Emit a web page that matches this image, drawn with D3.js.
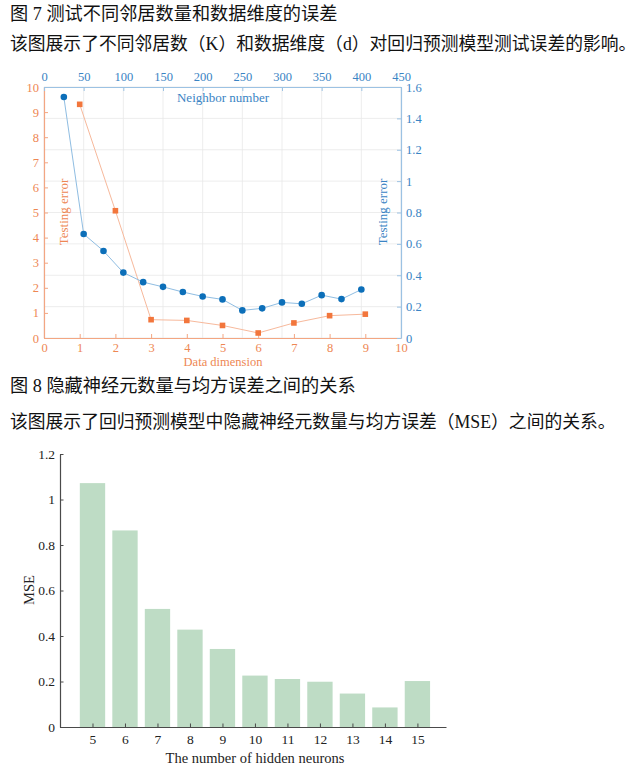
<!DOCTYPE html>
<html lang="zh">
  <head>
    <meta charset="UTF-8" />
    <title>Figure 7 and 8</title>
    <script src="https://d3js.org/d3.v7.min.js"></script>
    <style>
      body { margin: 0; background: #fff; }
      text { font-family: "Liberation Serif", "Noto Sans CJK SC", serif; }
    </style>
  </head>
  <body>
    <div id="chart"></div>
    <script>
      // ---- data ----
      const neighborNumbers = [25, 50, 75, 100, 125, 150, 175, 200, 225, 250, 275, 300, 325, 350, 375, 400];
      const neighborError = [1.536, 0.663, 0.555, 0.417, 0.356, 0.326, 0.293, 0.265, 0.246, 0.176, 0.189, 0.227, 0.218, 0.273, 0.248, 0.309];
      const dimensions = [1, 2, 3, 4, 5, 6, 7, 8, 9];
      const dimensionError = [9.31, 5.07, 0.73, 0.70, 0.50, 0.20, 0.60, 0.89, 0.95];

      const hiddenNeurons = [5, 6, 7, 8, 9, 10, 11, 12, 13, 14, 15];
      const mse = [1.072, 0.864, 0.519, 0.428, 0.343, 0.226, 0.211, 0.199, 0.147, 0.086, 0.202];

      const fig7Title = "图 7  测试不同邻居数量和数据维度的误差";
      const fig7Caption = "该图展示了不同邻居数（K）和数据维度（d）对回归预测模型测试误差的影响。";
      const fig8Title = "图 8  隐藏神经元数量与均方误差之间的关系";
      const fig8Caption = "该图展示了回归预测模型中隐藏神经元数量与均方误差（MSE）之间的关系。";

      const blue = "#0c6fb9", blueLine = "#8fbde2", blueAxis = "#9cc2e3", blueText = "#3a84c4";
      const orange = "#f2763c", orangeLine = "#f7b99c", orangeAxis = "#f3a682", orangeText = "#ee8753";

      const svg = d3.select("#chart").append("svg")
        .attr("width", 635).attr("height", 780);

      // captions
      function caption(txt, y, size) {
        svg.append("text").attr("x", 10).attr("y", y)
          .attr("font-size", size).attr("fill", "#111").text(txt);
      }
      caption(fig7Title, 20, 18.2);
      caption(fig7Caption, 50, 17.8);
      caption(fig8Title, 392, 18.2);
      caption(fig8Caption, 428, 17.8);

      // ---- figure 7: double-axis line chart ----
      const L = 44, R = 401, T = 87, B = 338;
      const xBot = d3.scaleLinear().domain([0, 10]).range([L, R]);
      const xTop = d3.scaleLinear().domain([0, 450]).range([L, R]);
      const yL = d3.scaleLinear().domain([0, 10]).range([B, T]);
      const yR = d3.scaleLinear().domain([0, 1.6]).range([B, T]);

      const g7 = svg.append("g");

      // grid from the top/right axes
      g7.append("g").selectAll("line").data(xTop.ticks(9)).join("line")
        .attr("x1", d => xTop(d)).attr("x2", d => xTop(d))
        .attr("y1", T).attr("y2", B)
        .attr("stroke", "#e8e8e8").attr("stroke-width", 0.8);
      g7.append("g").selectAll("line").data(d3.range(0, 1.61, 0.2)).join("line")
        .attr("x1", L).attr("x2", R)
        .attr("y1", d => yR(d)).attr("y2", d => yR(d))
        .attr("stroke", "#e8e8e8").attr("stroke-width", 0.8);

      function styleAxis(sel, lineColor, textColor) {
        sel.select(".domain").attr("stroke", lineColor).attr("stroke-width", 1.2);
        sel.selectAll(".tick line").attr("stroke", lineColor);
        sel.selectAll(".tick text").attr("fill", textColor)
          .attr("font-size", 12.5).attr("font-family", "Liberation Serif");
      }

      const fmt = d => String(+d.toFixed(1));

      const axBot = g7.append("g").attr("transform", `translate(0,${B})`)
        .call(d3.axisBottom(xBot).ticks(10).tickSize(-4).tickSizeOuter(0).tickPadding(5).tickFormat(fmt));
      styleAxis(axBot, orangeAxis, orangeText);

      const axLeft = g7.append("g").attr("transform", `translate(${L},0)`)
        .call(d3.axisLeft(yL).ticks(10).tickSize(-4).tickSizeOuter(0).tickPadding(5).tickFormat(fmt));
      styleAxis(axLeft, orangeAxis, orangeText);

      const axTop = g7.append("g").attr("transform", `translate(0,${T})`)
        .call(d3.axisTop(xTop).ticks(9).tickSize(-4).tickSizeOuter(0).tickPadding(6));
      styleAxis(axTop, blueAxis, blueText);

      const axRight = g7.append("g").attr("transform", `translate(${R},0)`)
        .call(d3.axisRight(yR).tickValues(d3.range(0, 1.61, 0.2)).tickSize(-4).tickSizeOuter(0).tickPadding(5).tickFormat(fmt));
      styleAxis(axRight, blueAxis, blueText);

      // dimension series (orange squares, left/bottom axes)
      const dimPts = dimensions.map((d, i) => [d, dimensionError[i]]);
      g7.append("path").datum(dimPts)
        .attr("d", d3.line().x(d => xBot(d[0])).y(d => yL(d[1])))
        .attr("fill", "none").attr("stroke", orangeLine).attr("stroke-width", 1);
      g7.append("g").selectAll("rect").data(dimPts).join("rect")
        .attr("x", d => xBot(d[0]) - 2.8).attr("y", d => yL(d[1]) - 2.8)
        .attr("width", 5.6).attr("height", 5.6).attr("fill", orange);

      // neighbor series (blue circles, top/right axes)
      const nbPts = neighborNumbers.map((d, i) => [d, neighborError[i]]);
      g7.append("path").datum(nbPts)
        .attr("d", d3.line().x(d => xTop(d[0])).y(d => yR(d[1])))
        .attr("fill", "none").attr("stroke", blueLine).attr("stroke-width", 1);
      g7.append("g").selectAll("circle").data(nbPts).join("circle")
        .attr("cx", d => xTop(d[0])).attr("cy", d => yR(d[1]))
        .attr("r", 3.3).attr("fill", blue);

      // axis labels
      g7.append("text").attr("x", 223).attr("y", 102).attr("text-anchor", "middle")
        .attr("font-size", 13).attr("fill", blueText).text("Neighbor number");
      g7.append("text").attr("x", 223).attr("y", 366).attr("text-anchor", "middle")
        .attr("font-size", 12.5).attr("fill", orangeText).text("Data dimension");
      g7.append("text").attr("transform", "translate(68,212) rotate(-90)").attr("text-anchor", "middle")
        .attr("font-size", 13).attr("fill", orangeText).text("Testing error");
      g7.append("text").attr("transform", "translate(387,212) rotate(-90)").attr("text-anchor", "middle")
        .attr("font-size", 13).attr("fill", blueText).text("Testing error");

      // ---- figure 8: bar chart ----
      const L2 = 60, R2 = 446, T2 = 454, B2 = 727;
      const x2 = d3.scaleLinear().domain([4, 15.88]).range([L2, R2]);
      const y2 = d3.scaleLinear().domain([0, 1.2]).range([B2, T2]);
      const barFrac = 0.78;
      const bw = x2(4 + barFrac) - x2(4);
      const axisGray = "#4a4a4a";

      const g8 = svg.append("g");
      g8.append("g").selectAll("rect").data(hiddenNeurons).join("rect")
        .attr("x", d => x2(d) - bw / 2)
        .attr("y", (d, i) => y2(mse[i]))
        .attr("width", bw)
        .attr("height", (d, i) => B2 - y2(mse[i]))
        .attr("fill", "#bedcc5");

      const ax2x = g8.append("g").attr("transform", `translate(0,${B2})`)
        .call(d3.axisBottom(x2).tickValues(hiddenNeurons).tickSize(-3.5).tickSizeOuter(0).tickPadding(7));
      const ax2y = g8.append("g").attr("transform", `translate(${L2},0)`)
        .call(d3.axisLeft(y2).tickValues(d3.range(0, 1.21, 0.2)).tickSize(-3.5).tickSizeOuter(0).tickPadding(5).tickFormat(fmt));
      [ax2x, ax2y].forEach(a => {
        a.select(".domain").attr("stroke", axisGray).attr("stroke-width", 1.2);
        a.selectAll(".tick line").attr("stroke", axisGray);
        a.selectAll(".tick text").attr("fill", "#222").attr("font-size", 13.5)
          .attr("font-family", "Liberation Serif");
      });

      g8.append("text").attr("x", 255).attr("y", 763).attr("text-anchor", "middle")
        .attr("font-size", 14.5).attr("fill", "#222").text("The number of hidden neurons");
      g8.append("text").attr("transform", "translate(34,590) rotate(-90)").attr("text-anchor", "middle")
        .attr("font-size", 14.5).attr("fill", "#222").text("MSE");
    </script>
  </body>
</html>
